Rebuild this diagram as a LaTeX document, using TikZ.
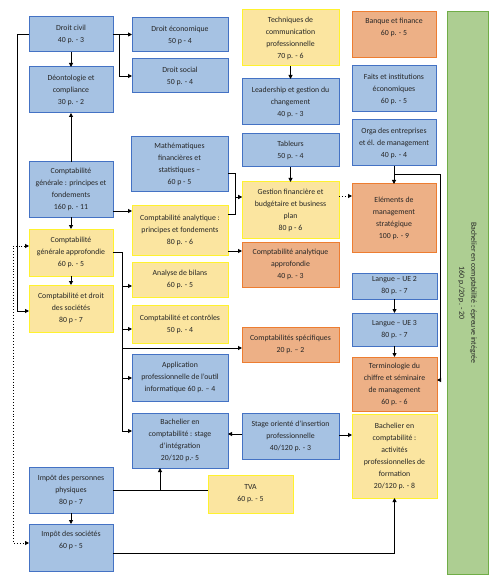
\documentclass[tikz,border=0pt]{standalone}
\usepackage{fontspec}
\setmainfont{Carlito}
\usetikzlibrary{arrows.meta}
\definecolor{bfill}{HTML}{A6C2E3}
\definecolor{bdraw}{HTML}{4472C4}
\definecolor{yfill}{HTML}{FBE5A0}
\definecolor{ydraw}{HTML}{FFF22E}
\definecolor{ofill}{HTML}{EDB086}
\definecolor{odraw}{HTML}{ED7D31}
\definecolor{gfill}{HTML}{ADCE92}
\definecolor{gdraw}{HTML}{70AD47}
\definecolor{txt}{HTML}{262626}
\newcommand\bx[7]{\node[#1,minimum width={(#4-#2)*1pt},minimum height={(#5-#3)*1pt}] (#6) at ({(#2+#4)/2},{(#3+#5)/2}) {#7};}
\begin{document}
\begin{tikzpicture}[x=1pt,y=-1pt,
  boxbase/.style={rectangle,line width=1pt,inner sep=0pt,outer sep=0pt,align=center,text=txt,font=\fontsize{7.8}{12}\selectfont},
  bluebox/.style={boxbase,fill=bfill,draw=bdraw},
  yellowbox/.style={boxbase,fill=yfill,draw=ydraw},
  orangebox/.style={boxbase,fill=ofill,draw=odraw},
  greenbox/.style={boxbase,fill=gfill,draw=gdraw},
  arr/.style={line width=0.9pt,draw=black,-{Triangle[length=4pt,width=4pt]}},
  ln/.style={line width=0.9pt,draw=black}]
\useasboundingbox (0,0) rectangle (500,585);
% left column
\bx{bluebox}{29}{17}{113}{52}{dc}{Droit civil\\40 p. - 3}
\bx{bluebox}{29}{67}{113}{113}{deo}{Déontologie et\\compliance\\30 p. - 2}
\bx{bluebox}{29}{162}{113}{217}{cgp}{Comptabilité\\générale : principes et\\fondements\\160 p. - 11}
\bx{yellowbox}{29}{229}{113}{276}{cga}{Comptabilité\\générale approfondie\\60 p. - 5}
\bx{yellowbox}{29}{285}{113}{332}{cds}{Comptabilité et droit\\des sociétés\\80 p - 7}
\bx{bluebox}{29}{467}{113}{513}{ipp}{Impôt des personnes\\physiques\\80 p - 7}
\bx{bluebox}{29}{524}{113}{571}{is}{Impôt des sociétés\\60 p - 5\\\strut}
% second column
\bx{bluebox}{132}{18}{228}{52}{de}{Droit économique\\50 p - 4}
\bx{bluebox}{132}{59}{228}{93}{ds}{Droit social\\50 p. - 4}
\bx{bluebox}{131}{137}{228}{192}{math}{Mathématiques\\financières et\\statistiques –\\60 p - 5}
\bx{yellowbox}{132}{205}{228}{255}{cap}{Comptabilité analytique :\\principes et fondements\\80 p. - 6}
\bx{yellowbox}{132}{262}{228}{297}{ab}{Analyse de bilans\\60 p. - 5}
\bx{yellowbox}{132}{305}{228}{343}{cc}{Comptabilité et contrôles\\50 p. - 4}
\bx{bluebox}{132}{354}{228}{401}{app}{Application\\professionnelle de l’outil\\informatique 60 p. – 4}
\bx{bluebox}{132}{413}{228}{468}{bsi}{Bachelier en\\comptabilité : stage\\d’intégration\\20/120 p.- 5}
% third column
\bx{yellowbox}{242}{10}{339}{66}{tech}{Techniques de\\communication\\professionnelle\\70 p. - 6}
\bx{bluebox}{242}{79}{339}{125}{lead}{Leadership et gestion du\\changement\\40 p. - 3}
\bx{bluebox}{242}{134}{339}{167}{tab}{Tableurs\\50 p. - 4}
\bx{yellowbox}{242}{182}{339}{238}{gf}{Gestion financière et\\budgétaire et business\\plan\\80 p - 6}
\bx{orangebox}{242}{242}{339}{287}{caa}{Comptabilité analytique\\approfondie\\40 p. - 3}
\bx{orangebox}{242}{327}{339}{362}{cs}{Comptabilités spécifiques\\20 p. – 2}
\bx{bluebox}{242}{413}{339}{459}{so}{Stage orienté d’insertion\\professionnelle\\40/120 p. - 3}
\bx{yellowbox}{208}{475}{293}{513}{tva}{TVA\\60 p. - 5}
% fourth column
\bx{orangebox}{352}{12}{436}{58}{bf}{Banque et finance\\60 p. - 5\\\strut}
\bx{bluebox}{352}{66}{436}{112}{fi}{Faits et institutions\\économiques\\60 p. - 5}
\bx{bluebox}{352}{120}{436}{166}{orga}{Orga des entreprises\\et él. de management\\40 p. - 4}
\bx{orangebox}{352}{184}{436}{252}{elm}{Eléments de\\management\\stratégique\\100 p. - 9}
\bx{bluebox}{352}{273}{437}{299}{ue2}{Langue – UE 2\\80 p. - 7}
\bx{bluebox}{352}{313}{437}{346}{ue3}{Langue – UE 3\\80 p. - 7}
\bx{orangebox}{352}{357}{437}{411}{term}{Terminologie du\\chiffre et séminaire\\de management\\60 p. - 6}
\bx{yellowbox}{352}{414}{437}{498}{ba}{Bachelier en\\comptabilité :\\activités\\professionnelles de\\formation\\20/120 p. - 8}
% green column
\bx{greenbox}{447}{12}{488}{574}{green}{}
\node[text=txt,font=\fontsize{7.8}{12}\selectfont,align=center,rotate=-90] (greentxt) at (green.center) {Bachelier en comptabilité : épreuve intégrée\\160 p./20 p. - 20};
% connectors
\draw[arr] (dc.east) -- (dc.east -| de.west);
\draw[arr] (dc.east) -- ++(6,0) |- (ds.west);
\draw[arr] (dc.south) -- (deo.north);
\draw[arr] (cgp.north) -- (deo.south);
\draw[arr] (dc.west) -- ++(-12,0) |- (cds.west |- 0,311);
\draw[arr] (cgp.east |- 0,211) -- (cap.west |- 0,211);
\draw[arr] (cgp.south) -- (cga.north);
\draw[arr] (cga.south) -- (cds.north);
\draw[arr] (cga.east |- 0,252) -- ++(9,0) |- (ab.west |- 0,286);
\draw[arr] (cga.east |- 0,252) -- ++(9,0) |- (cc.west |- 0,329);
\draw[arr] (cga.east |- 0,252) -- ++(9,0) |- (cs.west |- 0,348);
\draw[arr] (cga.east |- 0,252) -- ++(9,0) |- (app.west |- 0,378);
\draw[arr] (cga.east |- 0,252) -- ++(9,0) |- (bsi.west |- 0,431);
\draw[arr] (math.east |- 0,173) -- ++(7,0) |- (gf.west |- 0,197);
\draw[arr] (cap.east |- 0,214) -- ++(7,0) |- (gf.west |- 0,197);
\draw[arr] (cap.east |- 0,251) -- (caa.west |- 0,251);
\draw[arr] (tech.south) -- (lead.north);
\draw[arr] (tab.south) -- (gf.north);
\draw[arr,dotted] (gf.east |- 0,196) -- (elm.west |- 0,196);
\draw[arr] (orga.south) -- (elm.north);
\draw[arr] (orga.south) |- (440,174) |- (term.east |- 0,380);
\draw[arr] (ue2.south) -- (ue3.north);
\draw[arr] (ue3.south) -- (term.north);
\draw[arr] (so.west |- 0,434) -- (bsi.east |- 0,434);
\draw[arr] (so.east |- 0,435) -- (ba.west |- 0,435);
\coordinate (j1) at (160,490);
\draw[ln] (ipp.east |- j1) -- (tva.west |- j1);
\draw[arr] (j1) -- (bsi.south -| j1);
\draw[arr] (ipp.south) -- (is.north);
\draw[arr] (is.east |- 0,553) -| (ba.south);
\draw[line width=0.9pt,dotted,{Triangle[length=4pt,width=4pt]}-{Triangle[length=4pt,width=4pt]}] (cga.west |- 0,246) -- ++(-16,0) |- (is.west |- 0,543);
\end{tikzpicture}
\end{document}
